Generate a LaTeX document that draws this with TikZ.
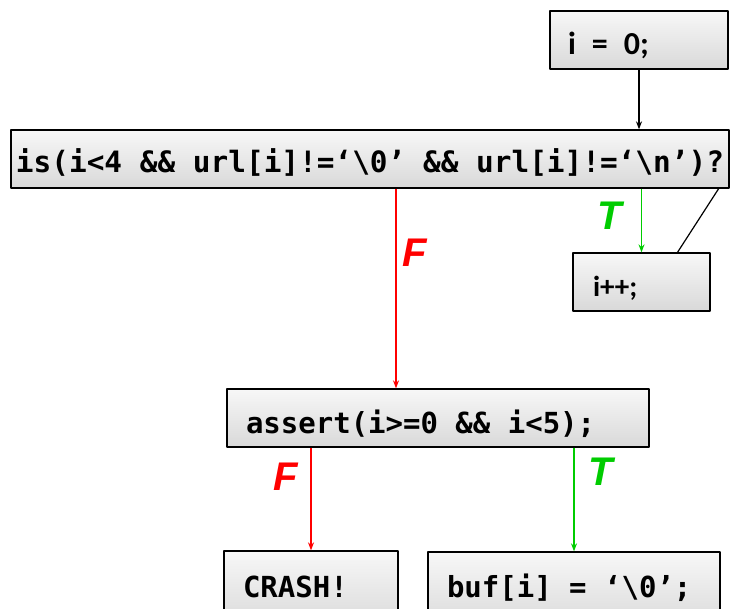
\documentclass[tikz,border=0pt]{standalone}
\usepackage{fontspec}
\usepackage{xcolor}
\usetikzlibrary{arrows.meta}
\newfontfamily\codefont{DejaVu Sans Mono}[BoldFont={DejaVu Sans Mono Bold},WordSpace={1,0,0}]
\newfontfamily\stmtfont{Carlito}
\newfontfamily\labfont{Liberation Sans}
\definecolor{fcol}{RGB}{255,0,0}
\definecolor{tcol}{RGB}{0,204,0}
\newcommand{\bs}{\textbackslash}
% left-set line of fixed width inside a box
\newcommand{\boxline}[2]{\makebox[#1][l]{#2}}

\begin{document}
\begin{tikzpicture}[x=1pt,y=-1pt,>={Stealth[length=8pt,width=6pt]},line join=round,
  box/.style={draw=black,line width=1.3pt,top color=gray!6,bottom color=gray!30,
    rectangle,inner ysep=0pt,minimum height=58pt,text depth=6pt,text height=36pt},
  code/.style={font=\codefont\bfseries\fontsize{29}{32}\selectfont},
  stmt/.style={font=\stmtfont\bfseries\fontsize{32}{36}\selectfont},
  flab/.style={fcol,font=\labfont\bfseries\itshape\fontsize{40}{44}\selectfont},
  tlab/.style={tcol,font=\labfont\bfseries\itshape\fontsize{40}{44}\selectfont},
  edge/.style={line width=1.2pt}]
  \useasboundingbox (0,0) rectangle (736,609);
  \clip (0,0) rectangle (736,609);
  % statements
  \node[box,stmt,inner xsep=18pt] (init) at (639,40) {\boxline{142pt}{i\hspace{0.5em}=\hspace{0.5em}0;}};
  \node[box,code,font=\codefont\bfseries\fontsize{29.4}{32}\selectfont,inner xsep=5pt,text height=34pt] (cond) at (370,159)
    {\boxline{708pt}{is(i<4 \&\& url[i]!=‘\bs0’ \&\& url[i]!=‘\bs n’)?}};
  \node[box,stmt,font=\stmtfont\bfseries\fontsize{29}{32}\selectfont,inner xsep=20pt] (inc) at (641.5,282) {\boxline{97pt}{i++;}};
  \node[box,code,inner xsep=19pt] (check) at (438,418) {\boxline{384pt}{assert(i>=0 \&\& i<5);}};
  \node[box,code,minimum height=78pt,inner xsep=19pt,text height=20pt] (crash) at (311,590) {\boxline{136pt}{CRASH!}};
  \node[box,code,minimum height=78pt,inner xsep=19pt,text height=18pt] (buf) at (574,591) {\boxline{254pt}{buf[i] = ‘\bs0’;}};
  % edges
  \draw[->,edge] (init.south) -- (init.south |- cond.north);
  \coordinate (fa) at ([xshift=-42]check.north);
  \draw[->,edge,fcol] (fa |- cond.south) -- (fa);
  \draw[->,edge,tcol] (inc.north |- cond.south) -- (inc.north);
  \draw[edge] ([xshift=-11]cond.south east) -- ([xshift=36]inc.north);
  \draw[->,edge,fcol] (crash.north |- check.south) -- (crash.north);
  \draw[->,edge,tcol] (buf.north |- check.south) -- (buf.north);
  % branch labels
  \node[flab] (f1) at (415,253) {F};
  \node[tlab] (t1) at (610,216) {T};
  \node[flab] (f2) at (286,477) {F};
  \node[tlab] (t2) at (601,472) {T};
\end{tikzpicture}
\end{document}
